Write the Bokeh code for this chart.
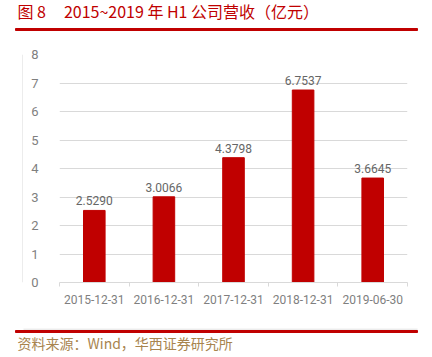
from bokeh.plotting import figure
from bokeh.layouts import column, row
from bokeh.models import ColumnDataSource, FixedTicker, Range1d
from bokeh.core.properties import value
from bokeh.embed import file_html
from bokeh.resources import INLINE

categories = ["2015-12-31", "2016-12-31", "2017-12-31", "2018-12-31", "2019-06-30"]
revenue = [2.5290, 3.0066, 4.3798, 6.7537, 3.6645]
y_ticks = [0, 1, 2, 3, 4, 5, 6, 7, 8]
title_text = "图\u00a08\u00a0\u00a0\u00a0\u00a0\u00a02015~2019\u00a0年\u00a0H1\u00a0公司营收（亿元）"
source_text = "资料来源：Wind，华西证券研究所"

RED = "#C00000"
GRID = "#D9D9D9"
TICK_TXT = "#7F7F7F"
VAL_TXT = "#666666"


def blank(width, height, xr, yr):
    f = figure(width=width, height=height, output_backend="svg", toolbar_location=None,
               x_range=Range1d(*xr), y_range=Range1d(*yr), min_border=0)
    f.axis.visible = False
    f.grid.visible = False
    f.outline_line_color = None
    return f


# header: title + red rule (pixel coordinates, y downwards)
top = blank(432, 31, (0, 432), (31, 0))
top.text(x=[17], y=[10], text=[title_text], text_font=value("Noto Sans CJK SC"),
         text_font_size="16px", text_color=RED, text_baseline="middle")
top.quad(left=[15], right=[417], top=[28], bottom=[30], color=RED)

# left edge of the chart box
left = blank(23, 297, (0, 23), (297, 0))
left.segment(x0=[22.5], y0=[0], x1=[22.5], y1=[297], line_color=GRID, line_width=1)

# main chart
xs = [i + 0.5 for i in range(len(categories))]
src = ColumnDataSource(dict(x=xs, top=revenue, label=["%.4f" % v for v in revenue]))

p = figure(width=409, height=297, output_backend="svg", toolbar_location=None,
           x_range=Range1d(0, len(categories)), y_range=Range1d(0, 8),
           min_border_left=36, min_border_right=25, min_border_top=23, min_border_bottom=46)
p.outline_line_color = None
p.vbar(x="x", top="top", width=0.31, source=src, color=RED)
p.text(x="x", y="top", text="label", source=src, text_align="center", text_baseline="bottom",
       y_offset=-5, text_font=value("Roboto"), text_font_size="12px", text_color=VAL_TXT)

xa = p.xaxis[0]
xa.ticker = FixedTicker(ticks=xs, minor_ticks=list(range(len(categories) + 1)))
xa.major_label_overrides = {x: c for x, c in zip(xs, categories)}
xa.major_tick_line_color = None
xa.minor_tick_in = 0
xa.minor_tick_out = 4
xa.minor_tick_line_color = GRID
xa.axis_line_color = GRID
xa.major_label_text_font = "Roboto"
xa.major_label_text_font_size = "12px"
xa.major_label_text_color = TICK_TXT
xa.major_label_standoff = 6

ya = p.yaxis[0]
ya.ticker = FixedTicker(ticks=y_ticks)
ya.axis_line_color = None
ya.major_tick_line_color = None
ya.minor_tick_line_color = None
ya.major_label_text_font = "Roboto"
ya.major_label_text_font_size = "13px"
ya.major_label_text_color = TICK_TXT
ya.major_label_standoff = 15

p.xgrid.grid_line_color = None
p.ygrid.grid_line_color = GRID
p.ygrid.ticker = FixedTicker(ticks=y_ticks)

# footer: box bottom edge, red rule, source
bottom = blank(432, 29, (0, 432), (29, 0))
bottom.segment(x0=[23], y0=[0.5], x1=[417], y1=[0.5], line_color=GRID, line_width=1)
bottom.quad(left=[15], right=[417], top=[2], bottom=[4], color=RED)
bottom.text(x=[17], y=[14], text=[source_text], text_font=value("Noto Sans CJK SC"),
            text_font_size="14px", text_color="#A8844E", text_baseline="middle")

layout = column(top, row(left, p, spacing=0), bottom, spacing=0)
open("out.html", "w").write(file_html(layout, INLINE))
